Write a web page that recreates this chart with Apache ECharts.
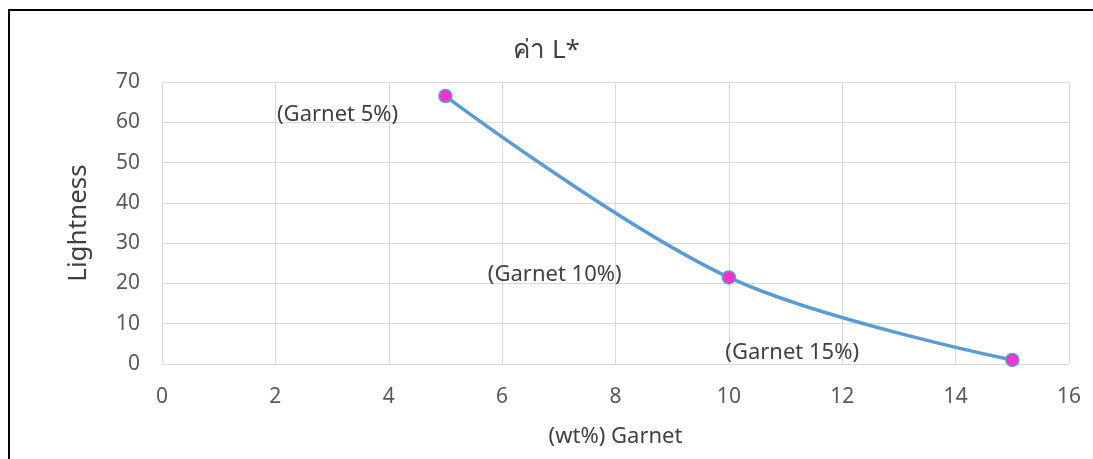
<!DOCTYPE html>
<html>
<head>
<meta charset="utf-8">
<script src="https://cdn.jsdelivr.net/npm/echarts@6/dist/echarts.min.js"></script>
<style>
  html, body { margin: 0; padding: 0; background: #fff; }
  #frame { position: absolute; left: 8px; top: 9px; width: 1085px; height: 450px;
           border-left: 2px solid #000; border-top: 2px solid #000; box-sizing: border-box; }
  #chart { position: absolute; left: 0; top: 0; width: 1093px; height: 459px; }
</style>
</head>
<body>
<div id="frame"></div>
<div id="chart"></div>
<script>
// Garnet content (wt%) and measured lightness L*
const garnetWt = [5, 10, 15];
const lightness = [66.5, 21.5, 1];
const pointLabels = ['(Garnet 5%)', '(Garnet 10%)', '(Garnet 15%)'];
const labelOffsets = [[-35, 19], [-95, -3], [-141, -7]];

const chart = echarts.init(document.getElementById('chart'));
const font = "'Noto Sans', 'Open Sans', sans-serif";

chart.setOption({
  backgroundColor: 'transparent',
  animation: false,
  title: {
    text: 'ค่า L*',
    left: 'center',
    top: 33,
    textStyle: { fontFamily: font, fontSize: 26, fontWeight: 'normal', color: '#404040' }
  },
  grid: { left: 162, right: 24, top: 82, bottom: 95 },
  xAxis: {
    type: 'value',
    min: 0, max: 16, interval: 2,
    name: '(wt%) Garnet',
    nameLocation: 'middle',
    nameGap: 62,
    nameTextStyle: { fontFamily: font, fontSize: 22, color: '#404040' },
    axisLine: { show: true, lineStyle: { color: '#d9d9d9', width: 1 } },
    axisTick: { show: false },
    axisLabel: { fontFamily: font, fontSize: 21, color: '#595959', margin: 23 },
    splitLine: { show: true, lineStyle: { color: '#d9d9d9', width: 1 } }
  },
  yAxis: {
    type: 'value',
    min: 0, max: 70, interval: 10,
    name: 'Lightness',
    nameLocation: 'middle',
    nameGap: 70,
    nameTextStyle: { fontFamily: font, fontSize: 26, color: '#404040' },
    axisLine: { show: false },
    axisTick: { show: false },
    axisLabel: { fontFamily: font, fontSize: 21, color: '#595959', margin: 22 },
    splitLine: { show: true, lineStyle: { color: '#d9d9d9', width: 1 } }
  },
  series: [{
    type: 'line',
    smooth: 0.35,
    data: garnetWt.map((x, i) => ({
      value: [x, lightness[i]],
      label: {
        show: true,
        formatter: pointLabels[i],
        position: 'left',
        offset: labelOffsets[i],
        fontFamily: font,
        fontSize: 22,
        color: '#404040'
      }
    })),
    lineStyle: { color: '#5B9BD5', width: 3.5 },
    symbol: 'circle',
    symbolSize: 13,
    itemStyle: { color: '#FF33CC', borderColor: '#5B9BD5', borderWidth: 1.5 }
  }]
});
</script>
</body>
</html>
